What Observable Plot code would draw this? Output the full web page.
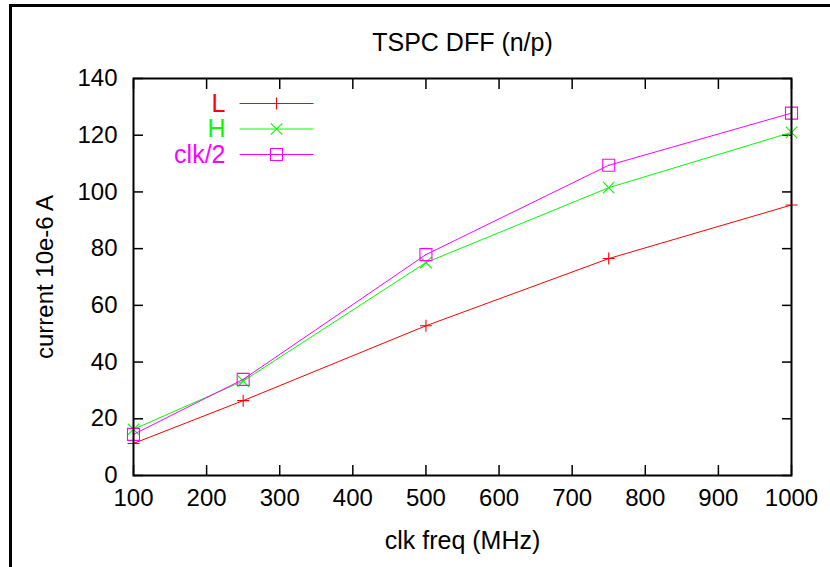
<!DOCTYPE html>
<html><head><meta charset="utf-8">
<script src="https://cdn.jsdelivr.net/npm/d3@7"></script>
<script src="https://cdn.jsdelivr.net/npm/@observablehq/plot@0.6"></script>
<style>
html,body{margin:0;padding:0;background:#fff;overflow:hidden}
#wrap{position:relative;width:830px;height:567px;overflow:hidden}
#border{position:absolute;left:9px;top:4px;width:900px;height:700px;border-left:3.5px solid #000;border-top:3.5px solid #000;pointer-events:none}
</style></head><body><div id="wrap"><div id="border"></div></div>
<script>
const freqs = [100, 250, 500, 750, 1000];
const currentL = [11.3, 26.4, 52.8, 76.5, 95.4];
const currentH = [16.3, 33.3, 75.1, 101.5, 121.0];
const currentClk2 = [14.5, 33.9, 77.9, 109.4, 127.8];
const seriesNames = ["L", "H", "clk/2"];
const seriesColors = ["#ff0000", "#00ff00", "#ff00ff"];
const xTicks = [100, 200, 300, 400, 500, 600, 700, 800, 900, 1000];
const yTicks = [0, 20, 40, 60, 80, 100, 120, 140];
const titleText = "TSPC DFF (n/p)";
const xLabel = "clk freq (MHz)";
const yLabel = "current 10e-6 A";

const symPlus = {draw(c, s){const r=Math.sqrt(s/Math.PI); c.moveTo(-r,0);c.lineTo(r,0);c.moveTo(0,-r);c.lineTo(0,r);}};
const symTimes = {draw(c, s){const r=Math.sqrt(s/Math.PI)*0.95; c.moveTo(-r,-r);c.lineTo(r,r);c.moveTo(-r,r);c.lineTo(r,-r);}};
const symSquare = {draw(c, s){const r=Math.sqrt(s/Math.PI); c.rect(-r,-r,2*r,2*r);}};
const symbols = [symPlus, symTimes, symSquare];
const valueSets = [currentL, currentH, currentClk2];

const series = seriesNames.map((name, i) => freqs.map((f, j) => ({freq: f, value: valueSets[i][j], name})));
const segShape = {draw(c, l){c.moveTo(0, 0); c.lineTo(0, -l);}};

const font = "'Liberation Sans', Arial, Helvetica, sans-serif";
const marks = [];
series.forEach((data, i) => {
  marks.push(Plot.line(data, {x: "freq", y: "value", stroke: seriesColors[i], strokeWidth: 1}));
  marks.push(Plot.dot(data, {x: "freq", y: "value", symbol: symbols[i], r: 6, stroke: seriesColors[i], fill: "none", strokeWidth: 1.1}));
  if (i === 2) marks.push(Plot.dot(data, {x: "freq", y: "value", r: 0.7, fill: seriesColors[i], stroke: "none"}));
  const rowDy = 25 + i * 25.5;
  marks.push(Plot.text([seriesNames[i]], {frameAnchor: "top-left", text: d => d, dx: 92, dy: rowDy, textAnchor: "end", lineAnchor: "middle", fill: seriesColors[i], fontSize: 25}));
  marks.push(Plot.vector([seriesNames[i]], {frameAnchor: "top-left", dx: 143, dy: rowDy, length: 73, rotate: 90, anchor: "middle", shape: segShape, stroke: seriesColors[i], strokeWidth: 1}));
  marks.push(Plot.dot([seriesNames[i]], {frameAnchor: "top-left", dx: 143, dy: rowDy, symbol: symbols[i], r: 6, stroke: seriesColors[i], fill: "none", strokeWidth: 1.1}));
  if (i === 2) marks.push(Plot.dot([seriesNames[i]], {frameAnchor: "top-left", dx: 143, dy: rowDy, r: 0.7, fill: seriesColors[i], stroke: "none"}));
});

const chart = Plot.plot({
  width: 830,
  height: 567,
  marginLeft: 133,
  marginRight: 39,
  marginTop: 78,
  marginBottom: 92,
  style: {fontFamily: font, fontSize: "24px", background: "transparent", color: "#000"},
  x: {domain: [100, 1000], ticks: xTicks, tickFormat: d3.format("d")},
  y: {domain: [0, 140], ticks: yTicks},
  marks: [
    Plot.axisX(xTicks, {anchor: "bottom", tickSize: -10, tickPadding: 23, strokeWidth: 1.5, label: null, fontSize: 24, tickFormat: d3.format("d")}),
    Plot.axisX(xTicks, {anchor: "top", tickSize: -10, tickFormat: () => "", strokeWidth: 1.5, label: null}),
    Plot.axisY(yTicks, {anchor: "left", tickSize: -10, tickPadding: 26, strokeWidth: 1.5, label: null, fontSize: 24}),
    Plot.axisY(yTicks, {anchor: "right", tickSize: -10, tickFormat: () => "", strokeWidth: 1.5, label: null}),
    ...marks,
    Plot.frame({stroke: "#000", strokeWidth: 2}),
    Plot.text([titleText], {frameAnchor: "top", text: d => d, dy: -36, lineAnchor: "middle", textAnchor: "middle", fontSize: 25}),
    Plot.text([xLabel], {frameAnchor: "bottom", text: d => d, dy: 65, lineAnchor: "middle", textAnchor: "middle", fontSize: 25}),
    Plot.text([yLabel], {frameAnchor: "left", text: d => d, dx: -88, rotate: -90, lineAnchor: "middle", textAnchor: "middle", fontSize: 24})
  ]
});
document.getElementById("wrap").appendChild(chart);
chart.style.position = "absolute";
chart.style.left = "0";
chart.style.top = "0";
</script></body></html>
